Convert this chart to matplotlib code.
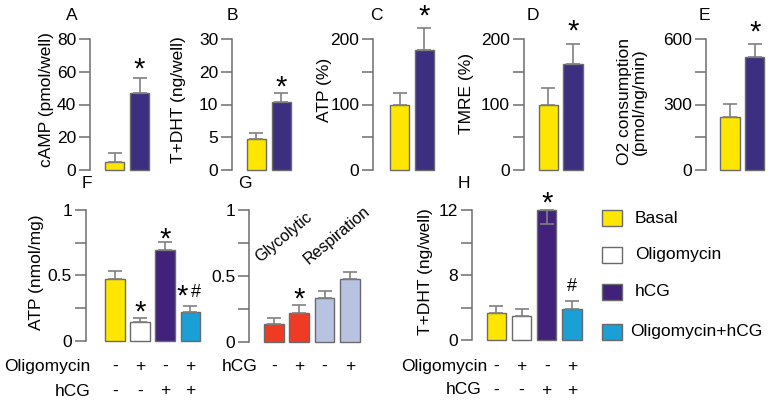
import numpy as np
import matplotlib
matplotlib.use('Agg')
import matplotlib.pyplot as plt
from matplotlib.patches import Rectangle
from matplotlib.ticker import FixedLocator, FixedFormatter

plt.rcParams['font.family'] = ['Liberation Sans', 'DejaVu Sans']

# ---------------- data ----------------
top_groups = ['Basal', 'hCG']
A_vals = [4.9, 47.0];   A_err = [5.3, 9.3]
B_vals = [4.7, 10.7];   B_err = [1.0, 2.9]
C_vals = [99, 184];     C_err = [18, 34]
D_vals = [99, 162];     D_err = [27, 31]
E_vals = [241, 517];    E_err = [60, 62]

legend_labels = ['Basal', 'Oligomycin', 'hCG', 'Oligomycin+hCG']
F_vals = [0.472, 0.141, 0.694, 0.217]; F_err = [0.061, 0.030, 0.059, 0.046]
G_vals = [0.132, 0.216, 0.330, 0.474]; G_err = [0.046, 0.060, 0.053, 0.053]
H_vals = [3.36, 2.95, 12.0, 3.78]
H_err_up = [0.86, 0.87, 0.0, 0.98]
H_err_down = [0.0, 0.0, 0.88, 0.0]

oligo_signs = ['-', '+', '-', '+']
hcg_signs = ['-', '-', '+', '+']
G_hcg_signs = ['-', '+', '-', '+']

# ---------------- style ----------------
YEL = '#ffe600'
DARK_TOP = '#3c2f80'
DARK = '#41217a'
CYAN = '#1a9fd6'
WHITE = '#ffffff'
RED = '#ef3b24'
LAV = '#b8c3e2'
EDGE = '#6a6a6a'
AXC = '#6e6e6e'
ERRC = '#808080'

FW, FH = 770, 405
fig = plt.figure(figsize=(FW / 100, FH / 100), dpi=100)

TICK_FS = 12.5
LAB_FS = 12.5
STAR_FS = 21
HASH_FS = 13


def px(x, y):
    return x / FW, 1 - y / FH


def make_ax(spine_x, y0, ytop, n, offset, pitch, ymax, ticks, labels, scale=None):
    width_px = offset + (n - 1) * pitch + 15
    ax = fig.add_axes([spine_x / FW, (FH - y0) / FH, width_px / FW, (y0 - ytop) / FH])
    if scale is not None:
        ax.set_yscale('function', functions=scale)
    ax.set_ylim(0, ymax)
    ax.set_xlim(-offset / pitch, (width_px - offset) / pitch)
    for s in ['top', 'right', 'bottom']:
        ax.spines[s].set_visible(False)
    ax.spines['left'].set_color(AXC)
    ax.spines['left'].set_linewidth(1.1)
    ax.set_xticks([])
    ax.yaxis.set_major_locator(FixedLocator(ticks))
    ax.yaxis.set_major_formatter(FixedFormatter(labels))
    ax.yaxis.set_minor_locator(FixedLocator([]))
    ax.tick_params(axis='y', length=8, width=1.1, color=AXC, labelsize=TICK_FS, pad=2)
    ax.patch.set_alpha(0)
    return ax


def draw_bars(ax, vals, colors, up, down=None):
    x = np.arange(len(vals))
    if down is None:
        down = [0] * len(vals)
    ax.errorbar(x, vals, yerr=[down, up], fmt='none', ecolor=ERRC, elinewidth=1.2,
                capsize=5, capthick=1.2, zorder=3, clip_on=False)
    ax.bar(x, vals, width=0.77, color=colors, edgecolor=EDGE, linewidth=1.0, zorder=2,
           clip_on=False)
    return x


def star(ax, xi, yv, txt, dy_px, dx_px=0, fs=STAR_FS):
    ax.annotate(txt, xy=(xi, yv), xytext=(dx_px * 0.72, dy_px * 0.72),
                textcoords='offset points', ha='center', va='center', fontsize=fs,
                annotation_clip=False)


def ylab(x, y, txt, fs=LAB_FS, ls=1.0):
    fig.text(*px(x, y), txt, rotation=90, ha='center', va='center', fontsize=fs,
             linespacing=ls)


def letter(x, y, txt):
    fig.text(*px(x, y), txt, ha='center', va='center', fontsize=LAB_FS)


# ---------------- top row ----------------
top_colors = [YEL, DARK_TOP]

axA = make_ax(90, 169.7, 39.3, 2, 24.7, 24.8, 80, [0, 20, 40, 60, 80],
              ['0', '20', '40', '60', '80'])
draw_bars(axA, A_vals, top_colors, A_err)
star(axA, 1, A_vals[1] + A_err[1], '*', 8.3)

fB = lambda y: np.where(np.asarray(y) <= 10, y, 10 + (np.asarray(y) - 10) / 2.0)
iB = lambda p: np.where(np.asarray(p) <= 10, p, 10 + (np.asarray(p) - 10) * 2.0)
axB = make_ax(232, 169.7, 39.3, 2, 24.3, 25.0, 30, [0, 5, 10, 20, 30],
              ['0', '5', '10', '20', '30'], scale=(fB, iB))
draw_bars(axB, B_vals, top_colors, B_err)
star(axB, 1, B_vals[1] + B_err[1], '*', 5)

axC = make_ax(373.3, 169.7, 39.3, 2, 26.2, 24.8, 200, [0, 50, 100, 150, 200],
              ['0', '', '100', '', '200'])
draw_bars(axC, C_vals, top_colors, C_err)
star(axC, 1, C_vals[1] + C_err[1], '*', 11)

axD = make_ax(524, 169.7, 39.3, 2, 24.3, 24.7, 200, [0, 50, 100, 150, 200],
              ['0', '', '100', '', '200'])
draw_bars(axD, D_vals, top_colors, D_err)
star(axD, 1, D_vals[1] + D_err[1], '*', 12)

axE = make_ax(705.7, 169.7, 39.3, 2, 24.3, 24.7, 600, [0, 150, 300, 450, 600],
              ['0', '', '300', '', '600'])
draw_bars(axE, E_vals, top_colors, E_err)
star(axE, 1, E_vals[1] + E_err[1], '*', 11.6)

# ---------------- bottom row ----------------
four_colors = [YEL, WHITE, DARK, CYAN]

axF = make_ax(86, 340.7, 210, 4, 28.8, 25.2, 1, [0, 0.25, 0.5, 0.75, 1],
              ['0', '', '0.5', '', '1'])
draw_bars(axF, F_vals, four_colors, F_err)
star(axF, 1, F_vals[1] + F_err[1], '*', 5.3)
star(axF, 2, F_vals[2] + F_err[2], '*', 2.3)
star(axF, 3, F_vals[3] + F_err[3], '*', 9.3, dx_px=-8)
star(axF, 3, F_vals[3] + F_err[3], '#', 13.5, dx_px=5.5, fs=HASH_FS)

axG = make_ax(249.3, 341.7, 210, 4, 24.5, 25.4, 1, [0, 0.25, 0.5, 0.75, 1],
              ['0', '', '0.5', '', '1'])
draw_bars(axG, G_vals, [RED, RED, LAV, LAV], G_err)
star(axG, 1, G_vals[1] + G_err[1], '*', 5.3)
fig.text(*px(283.3, 236.7), 'Glycolytic', rotation=40, ha='center', va='center',
         fontsize=11.5, rotation_mode='anchor')
fig.text(*px(336.7, 235.7), 'Respiration', rotation=40, ha='center', va='center',
         fontsize=11.5, rotation_mode='anchor')

fH = lambda y: np.where(np.asarray(y) <= 8, np.asarray(y) / 4.0, 2 + (np.asarray(y) - 8) / 2.0)
iH = lambda p: np.where(np.asarray(p) <= 2, np.asarray(p) * 4.0, 8 + (np.asarray(p) - 2) * 2.0)
axH = make_ax(471.7, 340, 210, 4, 24.6, 25.2, 12, [0, 4, 8, 10, 12],
              ['0', '', '8', '', '12'], scale=(fH, iH))
draw_bars(axH, H_vals, four_colors, H_err_up, H_err_down)
star(axH, 2, H_vals[2], '*', 6.3)
star(axH, 3, H_vals[3] + H_err_up[3], '#', 14.5, fs=HASH_FS)


def sign_row(ax, signs, y_px):
    for i, s in enumerate(signs):
        xd = ax.transData.transform((i, 0))[0]
        fig.text(xd / FW, 1 - y_px / FH, s, ha='center', va='center', fontsize=LAB_FS)


fig.canvas.draw()
sign_row(axF, oligo_signs, 366.7)
sign_row(axF, hcg_signs, 391)
sign_row(axG, G_hcg_signs, 366.7)
sign_row(axH, oligo_signs, 366.7)
sign_row(axH, hcg_signs, 390)

fig.text(*px(90.7, 366.7), 'Oligomycin', ha='right', va='center', fontsize=LAB_FS)
fig.text(*px(90.7, 391), 'hCG', ha='right', va='center', fontsize=LAB_FS)
fig.text(*px(257.3, 366.7), 'hCG', ha='right', va='center', fontsize=LAB_FS)
fig.text(*px(487.3, 366.7), 'Oligomycin', ha='right', va='center', fontsize=LAB_FS)
fig.text(*px(481.7, 390), 'hCG', ha='right', va='center', fontsize=LAB_FS)

# y labels
ylab(47, 100, 'cAMP (pmol/well)')
ylab(178, 100, 'T+DHT (ng/well)')
ylab(325, 90, 'ATP (%)')
ylab(467, 93, 'TMRE (%)')
ylab(632, 102, 'O2 consumption\n(pmol/ng/min)')
ylab(36, 272, 'ATP (nmol/mg)')
ylab(426, 272, 'T+DHT (ng/well)')

# panel letters
for x, y, t in [(71.7, 15, 'A'), (232, 15, 'B'), (376, 15, 'C'), (533, 15, 'D'),
                (704, 15, 'E'), (87, 183, 'F'), (245, 183, 'G'), (464, 183, 'H')]:
    letter(x, y, t)

# legend
leg_colors = [YEL, WHITE, DARK, CYAN]
leg_y = [218.3, 255, 291.7, 331.7]
leg_tx = [635, 635, 635, 630]
for lab, c, yy, tx in zip(legend_labels, leg_colors, leg_y, leg_tx):
    fig.patches.append(Rectangle(((601.7) / FW, 1 - (yy + 8) / FH), 20 / FW, 16 / FH,
                                 transform=fig.transFigure, facecolor=c,
                                 edgecolor=EDGE, linewidth=1.0))
    fig.text(tx / FW, 1 - yy / FH, lab, ha='left', va='center', fontsize=LAB_FS)

fig.savefig('out.png', dpi=100)
